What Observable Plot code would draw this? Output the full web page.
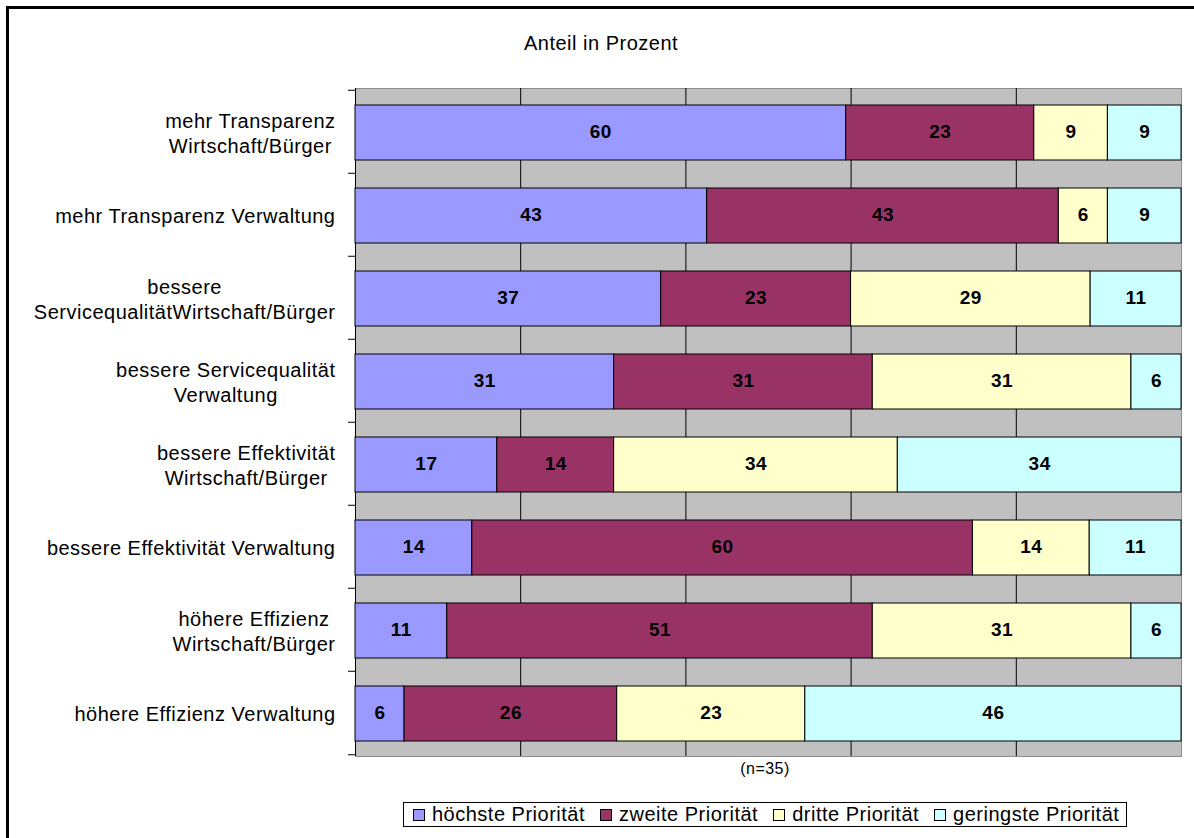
<!DOCTYPE html>
<html>
<head>
<meta charset="utf-8">
<script src="https://cdn.jsdelivr.net/npm/d3@7"></script>
<script src="https://cdn.jsdelivr.net/npm/@observablehq/plot@0.6"></script>
<style>
  html, body { margin: 0; padding: 0; background: #fff; overflow: hidden; }
  #page { position: relative; width: 1194px; height: 838px; overflow: hidden;
          font-family: "Liberation Sans", Arial, sans-serif; color: #000; }
  #frame { position: absolute; left: 6px; top: 6px; width: 1300px; height: 1000px;
           border: 3px solid #000; box-sizing: border-box; }
  #title { position: absolute; top: 32px; left: 601px; transform: translateX(-50%);
           font-size: 20px; letter-spacing: 0.5px; white-space: nowrap; }
  #chart { position: absolute; left: 0; top: 70px; }
  #chart svg text { letter-spacing: 0.5px; }
  #note { position: absolute; top: 760px; left: 765px; transform: translateX(-50%);
          font-size: 16px; letter-spacing: 0.5px; white-space: nowrap; }
  #legend { position: absolute; top: 802px; left: 403px; height: 25px; box-sizing: border-box;
            border: 1px solid #000; background: #fff; display: flex; align-items: center;
            padding: 0 7px 0 9px; font-size: 20px; letter-spacing: 0.5px; white-space: nowrap; }
  #legend .item { display: flex; align-items: center; margin-right: 15px; }
  #legend .item:last-child { margin-right: 0; }
  #legend .swatch { width: 12px; height: 12px; box-sizing: border-box; border: 1px solid #000;
                    margin-right: 7px; }
</style>
</head>
<body>
<div id="page">
  <div id="frame"></div>
  <div id="title">Anteil in Prozent</div>
  <div id="chart"></div>
  <div id="note">(n=35)</div>
  <div id="legend"></div>
</div>
<script>
// Survey categories (top to bottom)
const categories = [
  "mehr Transparenz\nWirtschaft/Bürger",
  "mehr Transparenz Verwaltung",
  "bessere\nServicequalitätWirtschaft/Bürger",
  "bessere Servicequalität\nVerwaltung",
  "bessere Effektivität\nWirtschaft/Bürger",
  "bessere Effektivität Verwaltung",
  "höhere Effizienz\nWirtschaft/Bürger",
  "höhere Effizienz Verwaltung"
];

// Priority levels (stack order) and their colours
const priorities = ["höchste Priorität", "zweite Priorität", "dritte Priorität", "geringste Priorität"];
const priorityColors = ["#9999ff", "#993366", "#ffffcc", "#ccffff"];

// Share in percent for each priority level, per category
const hoechste  = [60, 43, 37, 31, 17, 14, 11, 6];
const zweite    = [23, 43, 23, 31, 14, 60, 51, 26];
const dritte    = [9, 6, 29, 31, 34, 14, 31, 23];
const geringste = [9, 9, 11, 6, 34, 11, 6, 46];

// Vertical grid positions (share of 100 %)
const gridSteps = [0.2, 0.4, 0.6, 0.8];

const series = [hoechste, zweite, dritte, geringste];
const rows = categories.flatMap((category, i) =>
  priorities.map((priority, j) => ({category, priority, value: series[j][i]}))
);

const W = 1194, H = 690;
const mTop = 18, mBottom = 4, mLeft = 355, mRight = 13;
const band = (H - mTop - mBottom) / categories.length;

const stackOpts = {x: "value", y: "category", z: "priority", order: priorities, offset: "normalize"};

const chart = Plot.plot({
  width: W,
  height: H,
  marginTop: mTop,
  marginBottom: mBottom,
  marginLeft: mLeft,
  marginRight: mRight,
  style: {fontFamily: "'Liberation Sans', Arial, sans-serif", fontSize: "20px", color: "#000", background: "transparent"},
  x: {domain: [0, 1], axis: null},
  y: {domain: categories, padding: 0, label: null},
  color: {domain: priorities, range: priorityColors},
  marks: [
    Plot.frame({fill: "#c0c0c0", stroke: "#8c8c8c"}),
    Plot.ruleX(gridSteps, {stroke: "#000", strokeWidth: 1}),
    Plot.ruleX([0], {stroke: "#000", strokeWidth: 1}),
    Plot.barX(rows, Plot.stackX({
      ...stackOpts,
      fill: "priority",
      stroke: "#000",
      strokeWidth: 1,
      insetTop: 15,
      insetBottom: 13
    })),
    Plot.text(rows, Plot.stackX({
      ...stackOpts,
      text: (d) => String(d.value),
      fill: "#000",
      fontSize: 19,
      fontWeight: "bold"
    })),
    // tick marks on band boundaries
    Plot.axisY({ticks: categories, tickSize: 7, tickPadding: 0, dy: -band / 2, tickFormat: () => "", label: null, stroke: "#000"}),
    Plot.axisY({ticks: categories.slice(-1), tickSize: 7, tickPadding: 0, dy: band / 2, tickFormat: () => "", label: null, stroke: "#000"}),
    // category labels
    Plot.axisY({ticks: categories, tickSize: 0, tickPadding: 20, lineHeight: 1.25, fontSize: 20, label: null, fill: "#000"})
  ]
});

document.getElementById("chart").appendChild(chart);

// centre multi-line labels on each other while keeping the block right-aligned
chart.querySelectorAll('[aria-label="y-axis tick label"] text').forEach((t) => {
  if (!t.textContent) return;
  const w = t.getBBox().width;
  t.setAttribute("text-anchor", "middle");
  const tr = t.getAttribute("transform") || "";
  t.setAttribute("transform", `${tr} translate(${-w / 2},0)`);
});

// legend
const legend = document.getElementById("legend");
priorities.forEach((p, i) => {
  const item = document.createElement("div");
  item.className = "item";
  const sw = document.createElement("span");
  sw.className = "swatch";
  sw.style.background = priorityColors[i];
  const label = document.createElement("span");
  label.textContent = p;
  item.appendChild(sw);
  item.appendChild(label);
  legend.appendChild(item);
});
</script>
</body>
</html>
